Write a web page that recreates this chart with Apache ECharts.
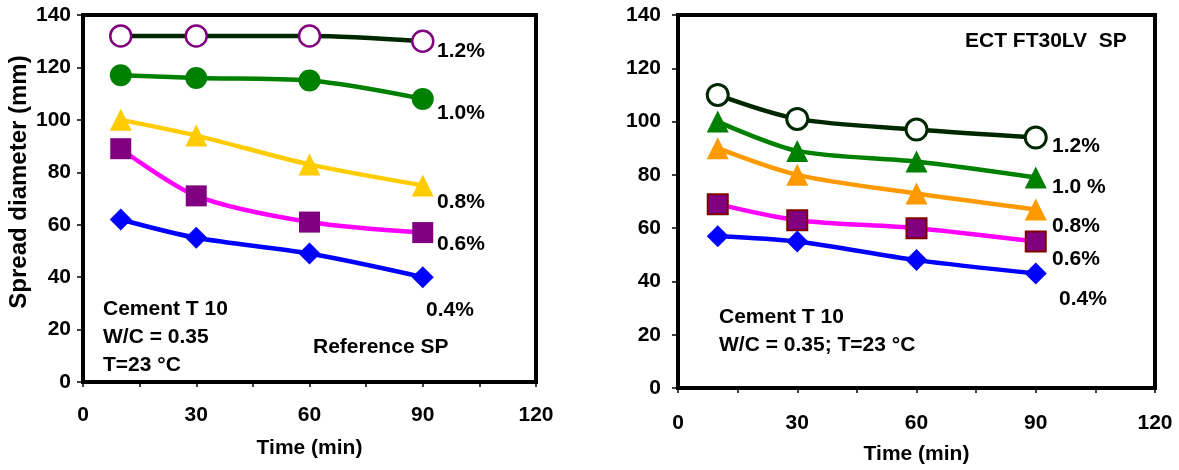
<!DOCTYPE html>
<html>
<head>
<meta charset="utf-8">
<script src="https://cdn.jsdelivr.net/npm/echarts@6/dist/echarts.min.js"></script>
<style>html,body{margin:0;padding:0;background:#fff;}#c{width:1179px;height:470px;}</style>
</head>
<body>
<div id="c"></div>
<script>
const times = [10, 30, 60, 90];
const seriesNames = ['1.2%', '1.0%', '0.8%', '0.6%', '0.4%'];
const seriesNamesRight = ['1.2%', '1.0 %', '0.8%', '0.6%', '0.4%'];
// Left panel: Reference SP
const ref12 = [132, 132, 132, 130];
const ref10 = [117, 116, 115, 108];
const ref08 = [100, 94, 83, 75];
const ref06 = [89, 71, 61, 57];
const ref04 = [62, 55, 49, 40];
// Right panel: ECT FT30LV SP
const ect12 = [110, 101, 97, 94];
const ect10 = [100, 89, 85, 79];
const ect08 = [90, 80, 73, 67];
const ect06 = [69, 63, 60, 55];
const ect04 = [57, 55, 48, 43];
const xTicks = [0, 30, 60, 90, 120];
const yTicks = [0, 20, 40, 60, 80, 100, 120, 140];

const FONT = 'Liberation Sans, Arial, sans-serif';
function pts(v){ return times.map((t,i)=>[t, v[i]]); }
function mk(name, idx, data, lineColor, symbol, fill, border, bw, size){
  return {
    name: name, type: 'line', xAxisIndex: idx, yAxisIndex: idx,
    data: pts(data), smooth: 0.3, symbol: symbol, symbolSize: size,
    lineStyle: {color: lineColor, width: 4.5},
    itemStyle: {color: fill, borderColor: border, borderWidth: bw},
    emphasis: {disabled: true}, z: 3
  };
}
const chart = echarts.init(document.getElementById('c'), null, {renderer: 'canvas'});
const xAx = (idx, margin) => ({
  gridIndex: idx, type: 'value', min: 0, max: 120, interval: 15,
  axisLine: {lineStyle: {color: '#000', width: 4}},
  axisTick: {show: true, length: 5, lineStyle: {color: '#000', width: 1.5}},
  axisLabel: {margin: margin, color: '#000', fontFamily: FONT, fontWeight: 'bold', fontSize: 21,
    formatter: v => xTicks.indexOf(v) >= 0 ? String(v) : ''},
  splitLine: {show: false},
  name: 'Time (min)', nameLocation: 'middle', nameGap: 56,
  nameTextStyle: {color: '#000', fontFamily: FONT, fontWeight: 'bold', fontSize: 21}
});
const yAx = (idx, margin) => ({
  gridIndex: idx, type: 'value', min: 0, max: 140, interval: 20,
  axisLine: {lineStyle: {color: '#000', width: 4}},
  axisTick: {show: true, length: 6, lineStyle: {color: '#000', width: 1.5}},
  axisLabel: {margin: margin, color: '#000', fontFamily: FONT, fontWeight: 'bold', fontSize: 21,
    formatter: v => yTicks.indexOf(v) >= 0 ? String(v) : ''},
  splitLine: {show: false}
});
const txt = (x, y, s) => ({type: 'text', left: x, top: y, z: 10,
  style: {text: s, fill: '#000', font: 'bold 21px ' + FONT}});
const option = {
  animation: false,
  grid: [
    {left: 83, top: 15, width: 453, height: 367, show: true, borderColor: '#000', borderWidth: 4, backgroundColor: '#fff'},
    {left: 678, top: 15, width: 477, height: 375, show: true, borderColor: '#000', borderWidth: 4, backgroundColor: '#fff'}
  ],
  xAxis: [xAx(0, 23), xAx(1, 25)],
  yAxis: [yAx(0, 12), yAx(1, 17)],
  series: [
    mk(seriesNames[0], 0, ref12, '#002800', 'circle', '#fff', '#800080', 2.5, 21),
    mk(seriesNames[1], 0, ref10, '#008000', 'circle', '#008000', '#008000', 0, 22),
    mk(seriesNames[2], 0, ref08, '#FFCC00', 'triangle', '#FFCC00', '#FFCC00', 0, 22),
    mk(seriesNames[3], 0, ref06, '#FF00FF', 'rect', '#800080', '#800080', 0, 21),
    mk(seriesNames[4], 0, ref04, '#0000FF', 'diamond', '#0000FF', '#0000FF', 0, 22),
    mk(seriesNamesRight[0], 1, ect12, '#002800', 'circle', '#fff', '#002800', 3, 21),
    mk(seriesNamesRight[1], 1, ect10, '#008000', 'triangle', '#008000', '#008000', 0, 22),
    mk(seriesNamesRight[2], 1, ect08, '#FF9900', 'triangle', '#FF9900', '#FF9900', 0, 22),
    mk(seriesNamesRight[3], 1, ect06, '#FF00FF', 'rect', '#800080', '#800000', 2, 20),
    mk(seriesNamesRight[4], 1, ect04, '#0000FF', 'diamond', '#0000FF', '#0000FF', 0, 22)
  ],
  graphic: [
    {type: 'text', x: 19, y: 182, rotation: Math.PI / 2, z: 10,
     style: {text: 'Spread diameter (mm)', fill: '#000', font: 'bold 24px ' + FONT, align: 'center', verticalAlign: 'middle'}},
    txt(437, 41, seriesNames[0]),
    txt(437, 103, seriesNames[1]),
    txt(437, 192, seriesNames[2]),
    txt(437, 234, seriesNames[3]),
    txt(426, 300, seriesNames[4]),
    txt(313, 337, 'Reference SP'),
    txt(103, 299, 'Cement T 10'),
    txt(103, 327, 'W/C = 0.35'),
    txt(103, 355, 'T=23 °C'),
    txt(965, 31, 'ECT FT30LV  SP'),
    txt(1052, 136, seriesNamesRight[0]),
    txt(1052, 177, seriesNamesRight[1]),
    txt(1052, 216, seriesNamesRight[2]),
    txt(1052, 249, seriesNamesRight[3]),
    txt(1059, 289, seriesNamesRight[4]),
    txt(719, 307, 'Cement T 10'),
    txt(719, 335, 'W/C = 0.35; T=23 °C')
  ]
};
chart.setOption(option);
</script>
</body>
</html>
